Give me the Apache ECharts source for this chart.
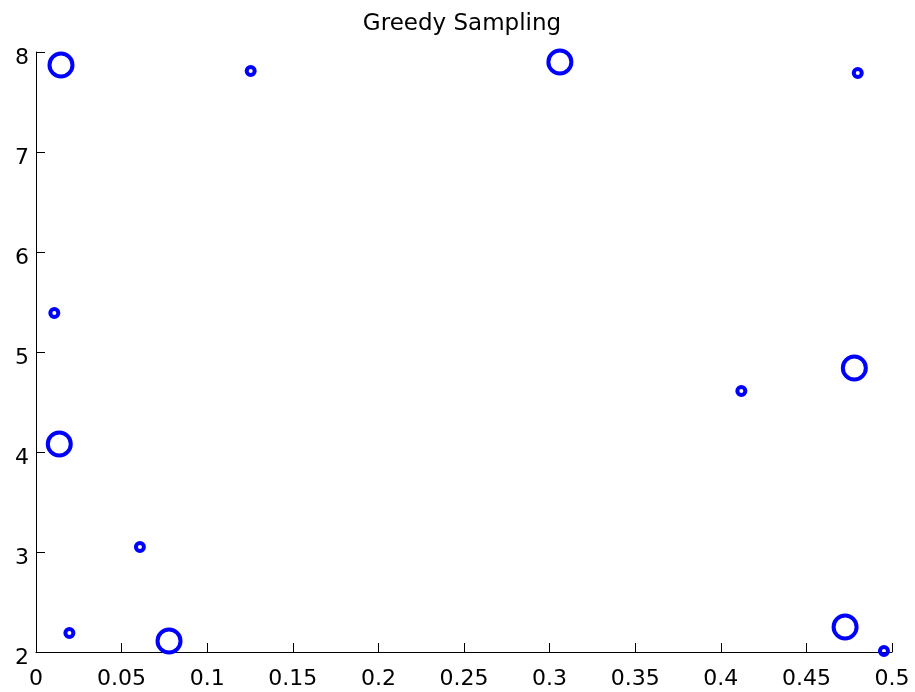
<!DOCTYPE html>
<html>
<head>
<meta charset="utf-8">
<script src="https://cdn.jsdelivr.net/npm/echarts@6/dist/echarts.min.js"></script>
<style>html,body{margin:0;padding:0;background:#fff;}#c{width:915px;height:692px;}</style>
</head>
<body>
<div id="c"></div>
<script>
var titleText = 'Greedy Sampling';
var xTicks = [0, 0.05, 0.1, 0.15, 0.2, 0.25, 0.3, 0.35, 0.4, 0.45, 0.5];
var yTicks = [2, 3, 4, 5, 6, 7, 8];
var largeX = [0.0146, 0.306, 0.0136, 0.0777, 0.478, 0.4726];
var largeY = [7.87, 7.90, 4.08, 2.11, 4.84, 2.25];
var smallX = [0.1254, 0.480, 0.0107, 0.0607, 0.0195, 0.412, 0.4953];
var smallY = [7.81, 7.79, 5.39, 3.05, 2.19, 4.61, 2.01];

function pairs(xs, ys) { return xs.map(function (x, i) { return [x, ys[i]]; }); }

var font = 'DejaVu Sans';
var chart = echarts.init(document.getElementById('c'), null, {renderer: 'canvas'});
chart.setOption({
  animation: false,
  backgroundColor: '#fff',
  title: {
    text: titleText, left: 457, textAlign: 'center', top: 8,
    textStyle: {fontFamily: font, fontSize: 23, fontWeight: 'normal', color: '#000'}
  },
  grid: {left: 36, right: 23, top: 52, bottom: 40},
  xAxis: {
    type: 'value', min: xTicks[0], max: xTicks[xTicks.length - 1], interval: 0.05,
    axisLine: {show: true, lineStyle: {color: '#000', width: 1}},
    axisTick: {show: true, inside: true, length: 9, lineStyle: {color: '#000'}},
    axisLabel: {fontFamily: font, fontSize: 22, color: '#000', margin: 16},
    splitLine: {show: false}
  },
  yAxis: {
    type: 'value', min: yTicks[0], max: yTicks[yTicks.length - 1], interval: 1,
    axisLine: {show: true, lineStyle: {color: '#000', width: 1}},
    axisTick: {show: true, inside: true, length: 9, lineStyle: {color: '#000'}},
    axisLabel: {
      color: '#000', margin: 7,
      formatter: function (v) { return '{a|' + v + '}'; },
      rich: {a: {fontFamily: font, fontSize: 22, color: '#000', padding: [12, 0, 0, 0]}}
    },
    splitLine: {show: false}
  },
  series: [
    {
      type: 'scatter', data: pairs(largeX, largeY), symbol: 'circle', symbolSize: 23, clip: false,
      itemStyle: {color: 'rgba(0,0,0,0)', borderColor: '#0000ff', borderWidth: 4, opacity: 1}
    },
    {
      type: 'scatter', data: pairs(smallX, smallY), symbol: 'circle', symbolSize: 8, clip: false,
      itemStyle: {color: 'rgba(0,0,0,0)', borderColor: '#0000ff', borderWidth: 4, opacity: 1}
    }
  ]
});
</script>
</body>
</html>
